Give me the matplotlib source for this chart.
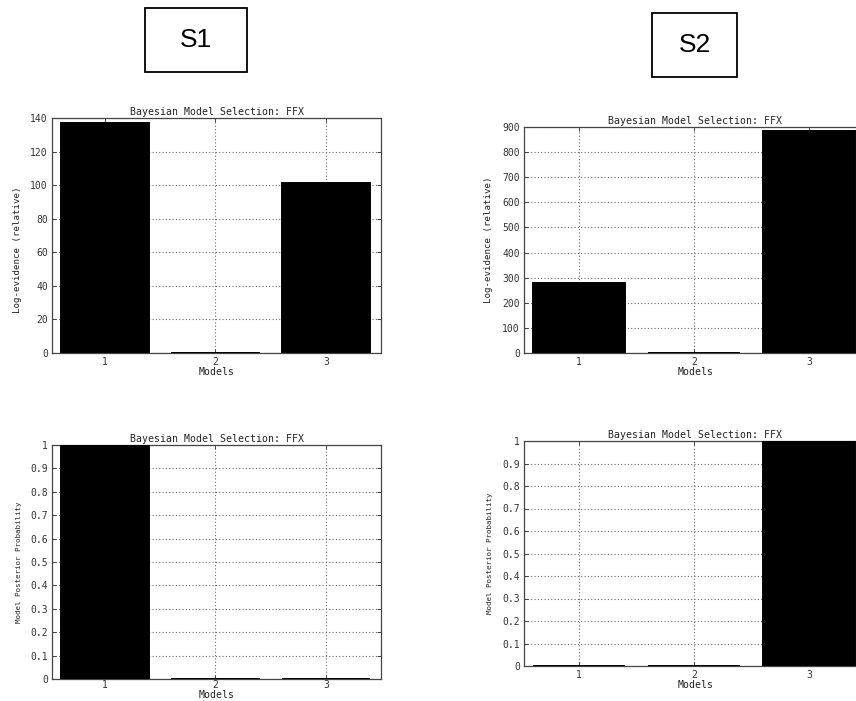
import matplotlib
matplotlib.use("Agg")
import matplotlib.pyplot as plt
from matplotlib.patches import Rectangle

W, H = 856, 701

models = [1, 2, 3]
model_labels = ["1", "2", "3"]

# Subject 1
s1_log_evidence = [137.3, 0.0, 101.2]
s1_posterior = [1.0, 0.0, 0.0]
# Subject 2
s2_log_evidence = [280.0, 0.0, 884.0]
s2_posterior = [0.0, 0.0, 1.0]

s1_ev_ticks = [0, 20, 40, 60, 80, 100, 120, 140]
s2_ev_ticks = [0, 100, 200, 300, 400, 500, 600, 700, 800, 900]
prob_ticks = [0, 0.1, 0.2, 0.3, 0.4, 0.5, 0.6, 0.7, 0.8, 0.9, 1]
prob_tick_labels = ["0", "0.1", "0.2", "0.3", "0.4", "0.5", "0.6",
                    "0.7", "0.8", "0.9", "1"]

title = "Bayesian Model Selection: FFX"
xlab = "Models"

fig = plt.figure(figsize=(W / 100, H / 100), dpi=100)
fig.patch.set_facecolor("white")


def px_axes(left, top, right, bottom):
    return fig.add_axes([left / W, 1 - bottom / H, (right - left) / W,
                         (bottom - top) / H])


mono = "DejaVu Sans Mono"


def draw_panel(ax, values, ymax, yticks, yticklabels, ylabel, ylab_size,
               ylab_y=0.5, xlab_pad=0, xtick_pad=3):
    ax.bar(models, values, width=0.8, color="black", edgecolor="black",
           linewidth=1.4, zorder=3)
    ax.set_xlim(0.52, 3.5)
    ax.set_ylim(0, ymax)
    ax.set_xticks(models)
    ax.set_xticklabels(model_labels, family=mono, fontsize=7, color="#333333")
    ax.set_yticks(yticks)
    ax.set_yticklabels(yticklabels, family=mono, fontsize=7, color="#333333")
    ax.grid(True, linestyle=(0, (1, 2)), color="#6a6a6a", linewidth=0.8,
            zorder=1)
    ax.tick_params(direction="in", length=3, width=0.7, top=True, right=True,
                   pad=3, color="#444444")
    ax.tick_params(axis="x", pad=xtick_pad)
    for sp in ax.spines.values():
        sp.set_linewidth(0.9)
        sp.set_color("#444444")
    ax.set_title(title, family=mono, fontsize=7.1, pad=2, color="#222222")
    ax.set_xlabel(xlab, family=mono, fontsize=7.1, labelpad=xlab_pad,
                  color="#222222")
    ax.set_ylabel(ylabel, family=mono, fontsize=ylab_size, color="#222222")
    ax.yaxis.set_label_coords(-0.09, ylab_y)


ax1 = px_axes(52, 118, 381, 353)
draw_panel(ax1, s1_log_evidence, 140, s1_ev_ticks,
           [str(t) for t in s1_ev_ticks], "Log-evidence (relative)", 6.6,
           ylab_y=0.44)

ax2 = px_axes(524, 127, 867, 353)
draw_panel(ax2, s2_log_evidence, 900, s2_ev_ticks,
           [str(t) for t in s2_ev_ticks], "Log-evidence (relative)", 6.6)

ax3 = px_axes(52, 445, 381, 679)
draw_panel(ax3, s1_posterior, 1, prob_ticks, prob_tick_labels,
           "Model Posterior Probability", 5.4, xlab_pad=-0.5, xtick_pad=1)

ax4 = px_axes(524, 441, 867, 666)
draw_panel(ax4, s2_posterior, 1, prob_ticks, prob_tick_labels,
           "Model Posterior Probability", 5.4)

# subject boxes
for label, (l, t, r, b) in [("S1", (145, 8, 247, 72)),
                            ("S2", (652, 13, 737, 77))]:
    fig.patches.append(Rectangle((l / W, 1 - b / H), (r - l) / W, (b - t) / H,
                                 transform=fig.transFigure, fill=False,
                                 edgecolor="black", linewidth=1.3))
    fig.text((l + r) / 2 / W, 1 - (t + b) / 2 / H, label,
             family="Liberation Sans", fontsize=19, ha="center", va="center")

fig.savefig("out.png", dpi=100, facecolor="white")
